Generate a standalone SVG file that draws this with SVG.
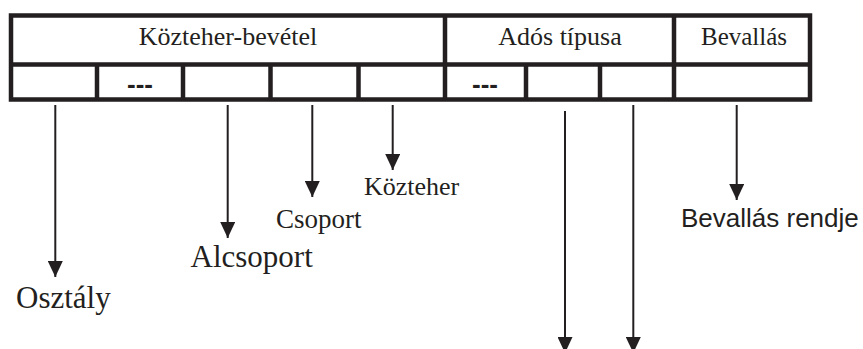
<svg xmlns="http://www.w3.org/2000/svg" width="863" height="349" viewBox="0 0 863 349">
<defs>
<marker id="ah" viewBox="0 0 16 15" refX="16" refY="7.5" markerWidth="16" markerHeight="15" markerUnits="userSpaceOnUse" orient="auto">
<path d="M0,0 L16,7.5 L0,15 Z" fill="#231f20"/>
</marker>
<style>
.b{fill:none;stroke:#231f20;stroke-width:4.5}
.c{stroke:#231f20;stroke-width:2;fill:none;marker-end:url(#ah)}
.s{font-family:"Liberation Serif","Times New Roman",serif;fill:#231f20}
.a{font-family:"Liberation Sans",Arial,sans-serif;fill:#231f20}
.d{font-family:"Liberation Sans",Arial,sans-serif;font-weight:bold;font-size:26px;fill:#231f20;text-anchor:middle}
</style>
</defs>
<rect width="863" height="349" fill="#fff"/>
<g id="table">
<rect class="b" x="11" y="15.5" width="799" height="84"/>
<line class="b" x1="11" y1="64.5" x2="810" y2="64.5"/>
<line class="b" x1="445" y1="15.5" x2="445" y2="99.5"/>
<line class="b" x1="674" y1="15.5" x2="674" y2="99.5"/>
<line class="b" x1="97" y1="64.5" x2="97" y2="99.5"/>
<line class="b" x1="183" y1="64.5" x2="183" y2="99.5"/>
<line class="b" x1="270.5" y1="64.5" x2="270.5" y2="99.5"/>
<line class="b" x1="358.5" y1="64.5" x2="358.5" y2="99.5"/>
<line class="b" x1="526" y1="64.5" x2="526" y2="99.5"/>
<line class="b" x1="600" y1="64.5" x2="600" y2="99.5"/>
<text class="s" x="228" y="45" font-size="26" text-anchor="middle">Közteher-bevétel</text>
<text class="s" x="560" y="45" font-size="26" text-anchor="middle">Adós típusa</text>
<text class="s" x="744" y="45" font-size="25" text-anchor="middle">Bevallás</text>
<text class="d" x="140" y="93">---</text>
<text class="d" x="485" y="93">---</text>
</g>
<g id="connectors">
<line class="c" x1="55.3" y1="105" x2="55.3" y2="277"/>
<line class="c" x1="227.7" y1="105" x2="227.7" y2="238"/>
<line class="c" x1="312.3" y1="105" x2="312.3" y2="197"/>
<line class="c" x1="392.7" y1="105" x2="392.7" y2="170"/>
<line class="c" x1="565" y1="111" x2="565" y2="353"/>
<line class="c" x1="633.3" y1="105" x2="633.3" y2="353"/>
<line class="c" x1="736.7" y1="105" x2="736.7" y2="200"/>
</g>
<g id="labels">
<text class="s" x="16" y="308" font-size="31">Osztály</text>
<text class="s" x="190.5" y="266.7" font-size="31">Alcsoport</text>
<text class="s" x="276" y="228" font-size="27">Csoport</text>
<text class="s" x="364" y="195" font-size="26">Közteher</text>
<text class="a" x="681" y="227" font-size="26">Bevallás rendje</text>
</g>
</svg>
